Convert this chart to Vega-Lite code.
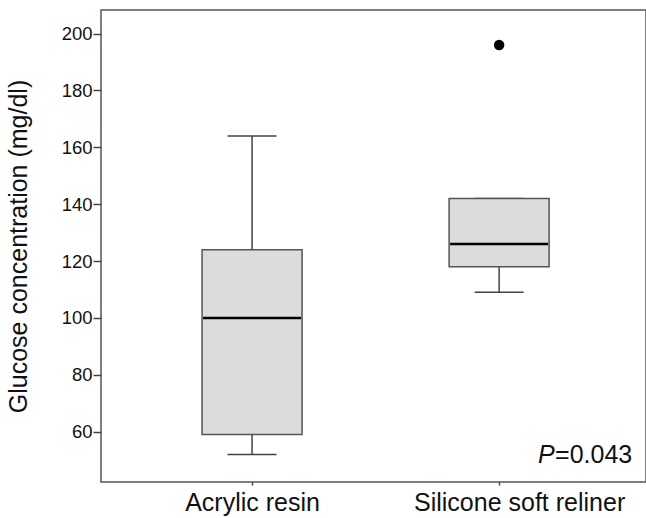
{
  "$schema": "https://vega.github.io/schema/vega-lite/v6.json",
  "width": 545,
  "height": 472,
  "autosize": {"type": "none"},
  "padding": {"left": 101, "top": 10, "right": 0, "bottom": 36},
  "background": "white",
  "config": {
    "view": {"stroke": "#555555", "strokeWidth": 1.5},
    "font": "Liberation Sans",
    "axis": {"grid": false, "domain": false, "tickColor": "#444444", "tickWidth": 1.5, "labelColor": "#111111", "titleColor": "#111111", "labelFont": "Liberation Sans", "titleFont": "Liberation Sans"}
  },
  "datasets": {
    "boxes": [
      {"group": "Acrylic resin", "lower": 52, "q1": 59, "median": 100, "q3": 124, "upper": 164},
      {"group": "Silicone soft reliner", "lower": 109, "q1": 118, "median": 126, "q3": 142, "upper": 142}
    ],
    "outliers": [
      {"group": "Silicone soft reliner", "value": 196}
    ],
    "note": [
      {"group": "Silicone soft reliner", "value": 49, "p": "P", "rest": "=0.043"}
    ]
  },
  "data": {"name": "boxes"},
  "encoding": {
    "x": {
      "field": "group", "type": "nominal", "sort": null,
      "scale": {"type": "point", "padding": 0.603, "align": 0.507},
      "axis": {"title": null, "labelAngle": 0, "labelFontSize": 25, "labelLimit": 500, "tickSize": 3, "labelPadding": 5,
        "labelOffset": {"condition": {"test": "datum.value == 'Silicone soft reliner'", "value": 20}, "value": 0}}
    }
  },
  "layer": [
    {
      "mark": {"type": "rule", "color": "#444444", "strokeWidth": 1.5},
      "encoding": {
        "y": {"field": "lower", "type": "quantitative",
          "scale": {"domain": [42.3, 208.3], "nice": false, "zero": false},
          "axis": {"title": "Glucose concentration (mg/dl)", "titleFontSize": 25, "titleFontWeight": "normal", "titlePadding": 30, "values": [60, 80, 100, 120, 140, 160, 180, 200], "labelFontSize": 18.5, "tickSize": 8, "labelPadding": 1}},
        "y2": {"field": "q1"}
      }
    },
    {
      "mark": {"type": "rule", "color": "#444444", "strokeWidth": 1.5},
      "encoding": {"y": {"field": "q3", "type": "quantitative"}, "y2": {"field": "upper"}}
    },
    {
      "mark": {"type": "tick", "color": "#444444", "thickness": 1.5, "size": 49, "opacity": 1},
      "encoding": {"y": {"field": "lower", "type": "quantitative"}}
    },
    {
      "mark": {"type": "tick", "color": "#444444", "thickness": 1.5, "size": 49, "opacity": 1},
      "encoding": {"y": {"field": "upper", "type": "quantitative"}}
    },
    {
      "mark": {"type": "bar", "size": 100, "fill": "#dcdcdc", "stroke": "#555555", "strokeWidth": 1.5},
      "encoding": {"y": {"field": "q1", "type": "quantitative"}, "y2": {"field": "q3"}}
    },
    {
      "mark": {"type": "tick", "color": "#000000", "thickness": 2.5, "size": 98, "opacity": 1},
      "encoding": {"y": {"field": "median", "type": "quantitative"}}
    },
    {
      "data": {"name": "outliers"},
      "mark": {"type": "point", "filled": true, "color": "#000000", "size": 110, "opacity": 1},
      "encoding": {"y": {"field": "value", "type": "quantitative"}}
    },
    {
      "data": {"name": "note"},
      "mark": {"type": "text", "align": "left", "baseline": "alphabetic", "fontSize": 25, "fontStyle": "italic", "dx": 39, "color": "#111111"},
      "encoding": {"y": {"field": "value", "type": "quantitative"}, "text": {"field": "p"}}
    },
    {
      "data": {"name": "note"},
      "mark": {"type": "text", "align": "left", "baseline": "alphabetic", "fontSize": 25, "dx": 56, "color": "#111111"},
      "encoding": {"y": {"field": "value", "type": "quantitative"}, "text": {"field": "rest"}}
    }
  ]
}
